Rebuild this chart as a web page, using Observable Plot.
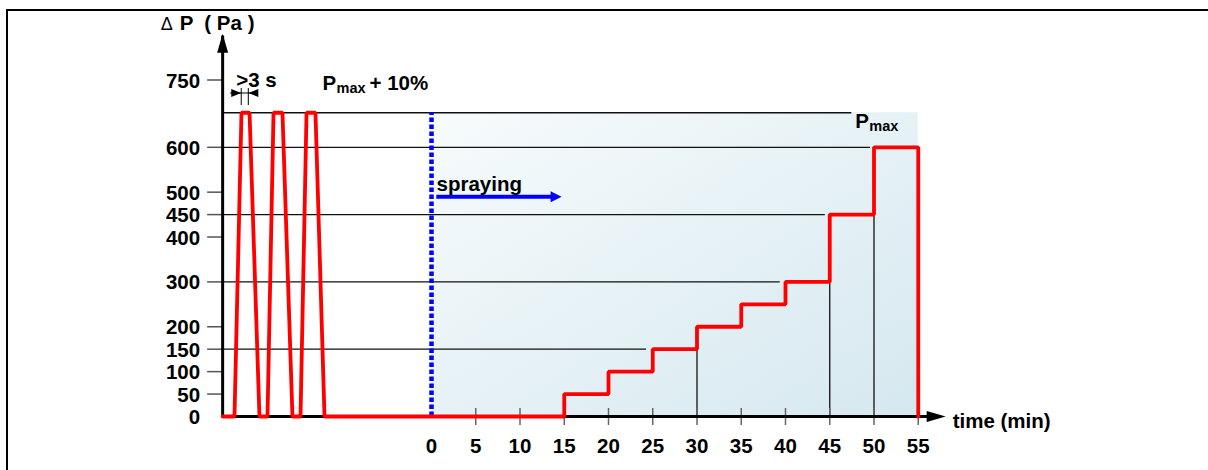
<!DOCTYPE html>
<html>
<head>
<meta charset="utf-8">
<script src="https://cdn.jsdelivr.net/npm/d3@7"></script>
<script src="https://cdn.jsdelivr.net/npm/@observablehq/plot@0.6"></script>
<style>
  html, body { margin: 0; padding: 0; background: #fff; overflow: hidden; }
  #wrap { position: relative; width: 1208px; height: 470px; }
  #frame { position: absolute; left: 6px; top: 9px; right: -10px; bottom: -10px;
           border-top: 2.5px solid #000; border-left: 2.5px solid #000; pointer-events: none; }
  #chart svg { display: block; }
</style>
</head>
<body>
<div id="wrap"><div id="chart"></div><div id="frame"></div></div>
<script>
// ---------- data ----------
const xTickValues = [0, 5, 10, 15, 20, 25, 30, 35, 40, 45, 50, 55];
const yTickValues = [0, 50, 100, 150, 200, 300, 400, 450, 500, 600, 750];

// pre-spraying pressure pulses (time in min, negative = before spraying)
const pulseTime  = [-23.6, -22.26, -21.47, -20.56, -19.44, -18.53, -17.85, -16.84, -15.71, -14.80, -14.12, -13.11, -12.09];
const pulseValue = [0, 0, 677, 677, 0, 0, 677, 677, 0, 0, 677, 677, 0];

// spraying pressure steps
const stepStart = [15, 20, 25, 30, 35, 40, 45, 50];
const stepLevel = [50, 100, 150, 200, 250, 300, 450, 600];
const stepEnd = 55;

// reference lines
const refLevel = [677, 600, 450, 300, 150];
const refEnd   = [47.5, 49.6, 44.5, 39.4, 24.3];
const dropTime  = [30, 45, 50];
const dropLevel = [150, 300, 450];

const pMax10 = 677;          // Pmax + 10%
const sprayStart = 0, sprayEnd = 55;
const sprayArrowLevel = 490, sprayArrowFrom = 0.6, sprayArrowTo = 14.7;
const axisStartX = -23.6, axisEndX = 58.1, axisEndY = 853;
const pulseMarker = [-21.5, -20.7];
const pulseMarkerTop = 731, pulseMarkerBottom = 693, pulseMarkerLevel = 721;

const yAxisTitle = "P  ( Pa )";
const xAxisTitle = "time (min)";

// ---------- derived tables ----------
const redPoints = pulseTime.map((t, i) => ({t, v: pulseValue[i]}));
let prev = 0;
stepStart.forEach((t, i) => {
  redPoints.push({t, v: prev});
  redPoints.push({t, v: stepLevel[i]});
  prev = stepLevel[i];
});
redPoints.push({t: stepEnd, v: prev});
redPoints.push({t: stepEnd, v: 0});

const refTable  = refLevel.map((level, i) => ({level, end: refEnd[i]}));
const dropTable = dropTime.map((t, i) => ({t, level: dropLevel[i]}));

// filled arrowhead symbol: tip at origin, pointing along +x
const head = (len, half) => ({
  draw(ctx) { ctx.moveTo(0, 0); ctx.lineTo(-len, -half); ctx.lineTo(-len, half); ctx.closePath(); }
});

const plot = Plot.plot({
  width: 1208,
  height: 470,
  marginLeft: 0, marginRight: 0, marginTop: 0, marginBottom: 0,
  x: {type: "linear", domain: [0, 55], range: [431, 917.75], axis: null},
  y: {type: "linear", domain: [0, 750], range: [416, 79.5], axis: null},
  style: {fontFamily: "'Liberation Sans', Arial, sans-serif", fontWeight: "bold", fontSize: "20.5px", color: "#000", background: "#fff"},
  marks: [
    // spraying background
    Plot.rect([0], {x1: sprayStart, x2: sprayEnd, y1: 0, y2: pMax10, fill: "url(#sprayBg)"}),
    // reference lines
    Plot.ruleY(refTable, {y: "level", x1: axisStartX, x2: "end", stroke: "#111", strokeWidth: 1.3}),
    Plot.ruleX(dropTable, {x: "t", y1: 0, y2: "level", stroke: "#111", strokeWidth: 1.3}),
    // ticks
    Plot.ruleX(xTickValues.filter(v => v > 0), {x: d => d, y1: 0, y2: 0, insetTop: -8, insetBottom: -9, stroke: "#666", strokeWidth: 1.5}),
    Plot.ruleY(yTickValues.filter(v => v > 0), {y: d => d, x1: axisStartX, x2: axisStartX, insetLeft: -15, stroke: "#555", strokeWidth: 1.5}),
    // axis lines + arrowheads
    Plot.ruleY([0], {x1: axisStartX, x2: axisEndX - 1.5, stroke: "#000", strokeWidth: 3}),
    Plot.ruleX([axisStartX], {y1: 0, y2: axisEndY - 5, stroke: "#000", strokeWidth: 3}),
    Plot.dot([{x: axisEndX, y: 0, rot: 0}, {x: axisStartX, y: axisEndY, rot: -90}],
             {x: "x", y: "y", rotate: "rot", symbol: head(19, 5.5), fill: "#000", stroke: "none"}),
    // tick labels
    Plot.text(xTickValues, {x: d => d, y: 0, text: d => String(d), lineAnchor: "top", dy: 22}),
    Plot.text(yTickValues, {x: axisStartX, y: d => d, text: d => String(d), textAnchor: "end", dx: -22.5, dy: 1}),
    // axis titles
    Plot.text(["\u0394"], {x: axisStartX, y: axisEndY, text: d => d, textAnchor: "start", dx: -62, dy: -9.5, fontSize: 18, fontWeight: "normal"}),
    Plot.text([yAxisTitle], {x: axisStartX, y: axisEndY, text: d => d, textAnchor: "start", dx: -43, dy: -10.5}),
    Plot.text([xAxisTitle], {x: axisEndX, y: 0, text: d => d, textAnchor: "start", dx: 7, dy: 5}),
    // spraying start line
    Plot.ruleX([sprayStart], {y1: 0, y2: pMax10, stroke: "#0000ff", strokeWidth: 4.5, strokeDasharray: "4.5,2.5"}),
    // pressure curve
    Plot.line(redPoints, {x: "t", y: "v", stroke: "#ff0000", strokeWidth: 3.8, strokeLinejoin: "miter"}),
    // spraying arrow
    Plot.ruleY([sprayArrowLevel], {x1: sprayArrowFrom, x2: sprayArrowTo - 0.6, stroke: "#0000ff", strokeWidth: 4}),
    Plot.dot([{x: sprayArrowTo, y: sprayArrowLevel}], {x: "x", y: "y", symbol: head(11, 5.5), fill: "#0000ff", stroke: "none"}),
    Plot.text(["spraying"], {x: sprayStart, y: sprayArrowLevel, text: d => d, textAnchor: "start", dx: 5, dy: -12}),
    // >3 s marker
    Plot.ruleX(pulseMarker, {x: d => d, y1: pulseMarkerBottom, y2: pulseMarkerTop, stroke: "#000", strokeWidth: 1}),
    Plot.ruleY([pulseMarkerLevel], {x1: pulseMarker[0] - 1.2, x2: pulseMarker[1] + 1.1, stroke: "#000", strokeWidth: 1}),
    Plot.dot([{x: pulseMarker[0], y: pulseMarkerLevel, rot: 0}, {x: pulseMarker[1], y: pulseMarkerLevel, rot: 180}],
             {x: "x", y: "y", rotate: "rot", symbol: head(10, 4), fill: "#000", stroke: "none"}),
    Plot.text([">3 s"], {x: pulseMarker[0], y: 750, text: d => d, textAnchor: "start", dx: -5, dy: 0}),
    // Pmax + 10% label
    Plot.text(["P"], {x: pulseTime[pulseTime.length - 1], y: 750, text: d => d, textAnchor: "start", dx: -2, dy: 3}),
    Plot.text(["max"], {x: pulseTime[pulseTime.length - 1], y: 750, text: d => d, textAnchor: "start", dx: 12, dy: 8.5, fontSize: 14.5}),
    Plot.text(["+ 10%"], {x: pulseTime[pulseTime.length - 1], y: 750, text: d => d, textAnchor: "start", dx: 45, dy: 3}),
    // Pmax label
    Plot.text(["P"], {x: 48, y: pMax10, text: d => d, textAnchor: "start", dx: -1, dy: 9}),
    Plot.text(["max"], {x: 48, y: pMax10, text: d => d, textAnchor: "start", dx: 13, dy: 14, fontSize: 14.5})
  ]
});

// gradient for the spraying region
const defs = d3.select(plot).insert("defs", ":first-child");
const grad = defs.append("linearGradient").attr("id", "sprayBg")
  .attr("x1", "0").attr("y1", "0").attr("x2", "1").attr("y2", "1");
grad.append("stop").attr("offset", "0%").attr("stop-color", "#f7fbfc");
grad.append("stop").attr("offset", "100%").attr("stop-color", "#d5e8ef");

document.getElementById("chart").appendChild(plot);
</script>
</body>
</html>
